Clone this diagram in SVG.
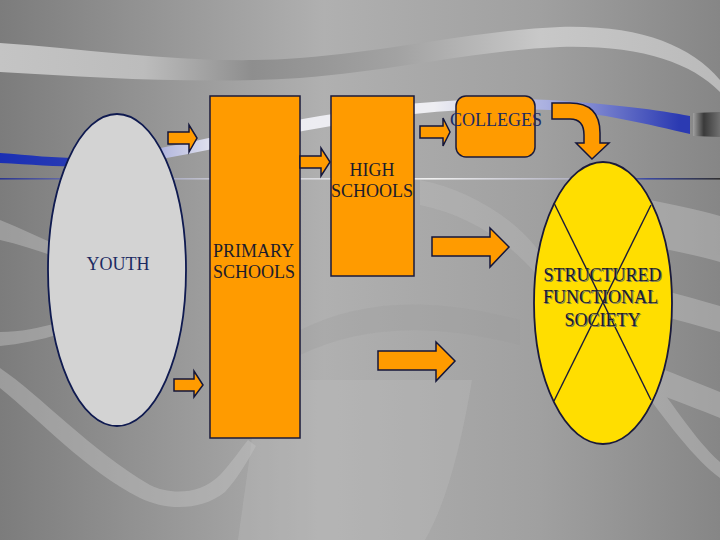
<svg xmlns="http://www.w3.org/2000/svg" width="720" height="540" viewBox="0 0 720 540">
<style>
.box{fill:#FF9B00;stroke:#1a1a3a;stroke-width:1.5}
.arr{fill:#FF9B00;stroke:#14163a;stroke-width:1.5;stroke-linejoin:miter}
.lbl{font-family:"Liberation Serif","Times New Roman",serif;font-size:18px;fill:#1c1c2c}
.navy{fill:#1c2a62}
.shadow{fill:#7a7a60}
</style>
<defs>
<linearGradient id="bg" x1="0" y1="0" x2="1" y2="0">
<stop offset="0" stop-color="#7c7c7c"/>
<stop offset="0.45" stop-color="#b0b0b0"/>
<stop offset="0.75" stop-color="#a0a0a0"/>
<stop offset="1" stop-color="#868686"/>
</linearGradient>
<linearGradient id="topband" x1="0" y1="0" x2="1" y2="0">
<stop offset="0" stop-color="#c4c4c4"/>
<stop offset="0.2" stop-color="#bcbcbc"/>
<stop offset="0.35" stop-color="#8e8e8e"/>
<stop offset="0.55" stop-color="#a2a2a2"/>
<stop offset="0.75" stop-color="#c8c8c8"/>
<stop offset="1" stop-color="#bababa"/>
</linearGradient>
<linearGradient id="blueband" x1="0" y1="0" x2="700" y2="0" gradientUnits="userSpaceOnUse">
<stop offset="0" stop-color="#1a2fb4"/>
<stop offset="0.12" stop-color="#2a3cb4"/>
<stop offset="0.24" stop-color="#b8bce0"/>
<stop offset="0.32" stop-color="#ececf2"/>
<stop offset="0.62" stop-color="#eeeef2"/>
<stop offset="0.78" stop-color="#aab0e0"/>
<stop offset="0.97" stop-color="#2b3ab2"/>
</linearGradient>
<linearGradient id="tip" x1="0" y1="0" x2="1" y2="0">
<stop offset="0" stop-color="#a0a0a0"/>
<stop offset="0.4" stop-color="#3a3a3a"/>
<stop offset="1" stop-color="#707070"/>
</linearGradient>
<linearGradient id="hline" x1="0" y1="0" x2="720" y2="0" gradientUnits="userSpaceOnUse">
<stop offset="0" stop-color="#2a3590"/>
<stop offset="0.1" stop-color="#6a70a8"/>
<stop offset="0.3" stop-color="#c8c8d0"/>
<stop offset="0.6" stop-color="#f0f0f0"/>
<stop offset="0.8" stop-color="#b0b0c0"/>
<stop offset="0.9" stop-color="#3a48a0"/>
<stop offset="1" stop-color="#303030"/>
</linearGradient>
</defs>

<!-- background -->
<rect x="0" y="0" width="720" height="540" fill="url(#bg)"/>
<path d="M0,43 C100,50 200,66 300,58 C400,50 480,30 560,27 C640,25 690,45 720,80 L720,92 C690,62 640,45 560,47 C480,50 400,70 300,78 C200,84 100,78 0,72 Z" fill="url(#topband)"/>
<path d="M0,153 C40,156 70,160 110,157 C160,150 250,128 320,116 C400,103 470,96 550,100 C610,104 660,110 690,116 L690,134 C650,125 600,112 550,110 C470,106 400,113 320,128 C250,140 160,162 110,166 C70,168 40,165 0,163 Z" fill="url(#blueband)"/>
<path d="M693,113 L720,112 L720,137 L693,136 Z" fill="url(#tip)"/>
<rect x="0" y="178" width="720" height="1.6" fill="url(#hline)"/>
<g fill="#c4c4c4" opacity="0.45">
<path d="M0,220 C20,228 40,238 60,246 L60,258 C40,252 20,244 0,240 Z"/>
<path d="M0,332 C20,332 40,328 60,322 L60,334 C40,340 20,344 0,346 Z"/>
<path d="M0,368 C40,395 90,450 150,485 C170,495 200,495 220,475 C232,462 240,450 248,440 L256,446 C248,460 238,478 225,492 C200,512 165,510 140,498 C85,470 40,420 0,388 Z"/>
<path d="M640,198 C670,204 700,210 720,216 L720,262 C700,256 670,250 640,244 Z"/>
<path d="M640,284 C670,292 700,300 720,306 L720,332 C700,326 670,318 640,310 Z"/>
<path d="M640,360 C670,372 700,384 720,392 L720,418 C700,410 670,398 640,388 Z"/>
<path d="M640,360 C670,400 695,440 720,462 L720,478 C695,460 665,420 636,380 Z"/>
</g>
<path d="M256,380 L472,380 C462,440 448,500 425,540 L238,540 C246,480 254,440 256,380 Z" fill="#bdbdbd" opacity="0.35"/>
<path d="M420,180 C470,190 520,220 545,260 L545,285 C515,245 470,215 420,205 Z" fill="#c0c0c0" opacity="0.3"/>
<path d="M300,330 C360,300 430,296 520,320 L520,345 C430,322 360,326 300,355 Z" fill="#9a9a9a" opacity="0.3"/>

<!-- nodes -->
<g id="youth">
<ellipse cx="117" cy="270" rx="69" ry="156" fill="#d3d3d3" stroke="#0f1a50" stroke-width="1.8"/>
<text class="lbl navy" x="118" y="270" text-anchor="middle">YOUTH</text>
</g>
<g id="primary">
<rect class="box" x="210" y="96" width="90" height="342"/>
<text class="lbl" x="213" y="257">PRIMARY</text>
<text class="lbl" x="213" y="278">SCHOOLS</text>
</g>
<g id="high">
<rect class="box" x="331" y="96" width="83" height="180"/>
<text class="lbl" x="372" y="176" text-anchor="middle">HIGH</text>
<text class="lbl" x="372" y="197" text-anchor="middle">SCHOOLS</text>
</g>
<g id="colleges">
<rect class="box" x="456" y="96" width="79" height="61" rx="10" ry="10"/>
<text class="lbl navy" x="496" y="126" text-anchor="middle">COLLEGES</text>
</g>
<g id="society">
<ellipse cx="603" cy="303" rx="69" ry="141" fill="#FFDE00" stroke="#1a1a3a" stroke-width="1.8"/>
<line x1="554" y1="203" x2="651" y2="400" stroke="#1a1a3a" stroke-width="1.4"/>
<line x1="651" y1="205" x2="554" y2="401" stroke="#1a1a3a" stroke-width="1.4"/>
<g text-anchor="middle">
<text class="lbl shadow" x="603.5" y="282">STRUCTURED</text>
<text class="lbl shadow" x="601.5" y="304">FUNCTIONAL</text>
<text class="lbl shadow" x="603.5" y="327">SOCIETY</text>
<text class="lbl" x="602.5" y="281">STRUCTURED</text>
<text class="lbl" x="600.5" y="303">FUNCTIONAL</text>
<text class="lbl" x="602.5" y="326">SOCIETY</text>
</g>
</g>

<!-- connectors -->
<g id="connectors">
<path class="arr" d="M168,132 L189,132 L189,125 L197,138 L189,152 L189,144 L168,144 Z"/>
<path class="arr" d="M174,379 L194,379 L194,371 L203,385 L194,397 L194,391 L174,391 Z"/>
<path class="arr" d="M300,156 L321,156 L321,148 L330,162 L321,176 L321,168 L300,168 Z"/>
<path class="arr" d="M420,126 L443,126 L443,118 L450,132 L443,146 L443,138 L420,138 Z"/>
<path class="arr" d="M552,103 L570,103 Q600,103 600,133 L600,143 L609,143 L592,159 L576,143 L584,143 L584,135 Q584,119 570,119 L552,119 Z"/>
<path class="arr" d="M432,237 L490,237 L490,228 L509,247 L490,267 L490,256 L432,256 Z"/>
<path class="arr" d="M378,351 L436,351 L436,342 L455,361 L436,381 L436,370 L378,370 Z"/>
</g>
</svg>
